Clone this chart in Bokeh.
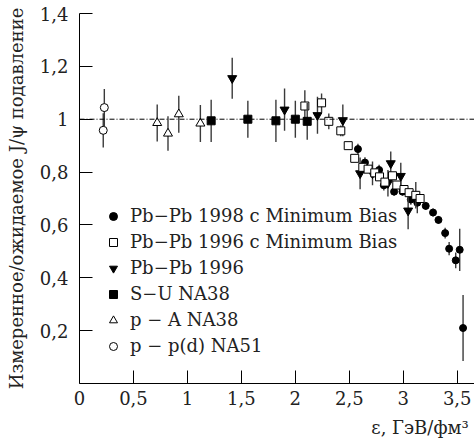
from bokeh.plotting import figure
from bokeh.models import ColumnDataSource, Span, Legend, LegendItem, FixedTicker, Range1d
from bokeh.embed import file_html
from bokeh.resources import INLINE

# ---- data ----
pp_x = [0.22, 0.23]
pp_y = [0.958, 1.044]
pp_err = [0.065, 0.07]

pA_x = [0.72, 0.82, 0.92, 1.12]
pA_y = [0.986, 0.946, 1.019, 0.984]
pA_err = [0.07, 0.065, 0.07, 0.07]

su_x = [1.22, 1.56, 1.82, 2.0, 2.11]
su_y = [0.994, 1.0, 0.994, 1.0, 0.992]
su_err = [0.08, 0.07, 0.08, 0.07, 0.07]

pb96_x = [1.415, 1.9, 2.205, 2.44, 2.6, 2.715, 2.858, 2.884, 2.977, 3.045]
pb96_y = [1.155, 1.036, 1.015, 0.996, 0.795, 0.795, 0.758, 0.833, 0.785, 0.654]
pb96_err = [0.078, 0.08, 0.07, 0.06, 0.06, 0.045, 0.05, 0.045, 0.05, 0.07]

pb96mb_x = [2.088, 2.243, 2.31, 2.421, 2.49, 2.55, 2.625, 2.674, 2.736, 2.78,
            2.83, 2.9, 2.94, 3.007, 3.054, 3.116, 3.156]
pb96mb_y = [1.05, 1.062, 0.992, 0.956, 0.90, 0.852, 0.818, 0.811, 0.797, 0.782,
            0.762, 0.786, 0.751, 0.734, 0.722, 0.712, 0.70]
pb96mb_err = [0.06, 0.035, 0.03, 0.02, 0.0, 0.0, 0.0, 0.0, 0.0, 0.0,
              0.0, 0.0, 0.0, 0.0, 0.0, 0.05, 0.0]

pb98_x = [2.58, 2.645, 2.776, 2.82, 2.915, 2.993, 3.07, 3.13, 3.208, 3.276,
          3.326, 3.388, 3.425, 3.486, 3.523, 3.554]
pb98_y = [0.887, 0.836, 0.808, 0.75, 0.726, 0.726, 0.696, 0.684, 0.672, 0.647,
          0.619, 0.569, 0.51, 0.466, 0.506, 0.21]
pb98_err = [0.02, 0.02, 0.02, 0.02, 0.015, 0.015, 0.02, 0.04, 0.015, 0.015,
            0.015, 0.02, 0.025, 0.03, 0.08, 0.125]

x_ticks = [0, 0.5, 1, 1.5, 2, 2.5, 3, 3.5]
x_tick_labels = ["0", "0,5", "1", "1,5", "2", "2,5", "3", "3,5"]
y_ticks = [0.2, 0.4, 0.6, 0.8, 1.0, 1.2, 1.4]
y_tick_labels = ["0,2", "0,4", "0,6", "0,8", "1", "1,2", "1,4"]

labels = ["Pb\u2212Pb 1998 с Minimum Bias", "Pb\u2212Pb 1996 с Minimum Bias",
          "Pb\u2212Pb 1996", "S\u2212U NA38", "p \u2212 A NA38", "p \u2212 p(d) NA51"]

x_title = "ε, ГэВ/фм³"
y_title = "Измеренное/ожидаемое J/ψ подавление"

FONT = "DejaVu Serif"
TXT = "#222222"

p = figure(width=474, height=440, output_backend="svg", toolbar_location=None,
           x_range=Range1d(0, 3.66), y_range=Range1d(0, 1.4),
           min_border_left=79, min_border_right=0, min_border_top=13,
           min_border_bottom=57)
p.outline_line_color = None
p.grid.visible = False
p.background_fill_color = "white"
p.border_fill_color = "white"

for ax in (p.xaxis, p.yaxis):
    ax.axis_line_color = "black"
    ax.major_tick_line_color = "black"
    ax.major_tick_in = 13
    ax.major_tick_out = 0
    ax.minor_tick_line_color = None
    ax.major_label_text_font = FONT
    ax.major_label_text_font_size = "18px"
    ax.major_label_text_color = TXT
    ax.axis_label_text_font = FONT
    ax.axis_label_text_font_size = "18px"
    ax.axis_label_text_font_style = "normal"
    ax.axis_label_text_color = TXT

p.xaxis.ticker = FixedTicker(ticks=x_ticks)
p.xaxis.major_label_overrides = {t: l for t, l in zip(x_ticks, x_tick_labels)}
p.yaxis.ticker = FixedTicker(ticks=y_ticks)
p.yaxis.major_label_overrides = {t: l for t, l in zip(y_ticks, y_tick_labels)}
p.xaxis.major_label_standoff = 7
p.yaxis.major_label_standoff = 11
p.yaxis.axis_label = y_title
p.yaxis.axis_label_standoff = 10
# the axis title is centred by Bokeh; non-breaking spaces push it to the right end
p.xaxis.axis_label = "\u00a0" * 50 + x_title
p.xaxis.axis_label_standoff = 9

p.add_layout(Span(location=1.0, dimension="width", line_color="black",
                  line_width=1, line_dash="5 2 1 2"))

ERR = "#3a3a3a"

def series(xs, ys, errs, marker, size, fill):
    src = ColumnDataSource(dict(x=xs, y=ys,
                                lo=[y - e for y, e in zip(ys, errs)],
                                hi=[y + e for y, e in zip(ys, errs)]))
    p.segment(x0="x", y0="lo", x1="x", y1="hi", source=src,
              line_color=ERR, line_width=1.4)
    return p.scatter("x", "y", source=src, marker=marker, size=size,
                     fill_color=fill, line_color="black", line_width=1)

r98 = series(pb98_x, pb98_y, pb98_err, "circle", 7, "black")
r96 = series(pb96_x, pb96_y, pb96_err, "inverted_triangle", 9, "black")
r96mb = series(pb96mb_x, pb96mb_y, pb96mb_err, "square", 8, "white")
rsu = series(su_x, su_y, su_err, "square", 8, "black")
rpa = series(pA_x, pA_y, pA_err, "triangle", 9, "white")
rpp = series(pp_x, pp_y, pp_err, "circle", 8, "white")

legend = Legend(items=[LegendItem(label=labels[0], renderers=[r98]),
                       LegendItem(label=labels[1], renderers=[r96mb]),
                       LegendItem(label=labels[2], renderers=[r96]),
                       LegendItem(label=labels[3], renderers=[rsu]),
                       LegendItem(label=labels[4], renderers=[rpa]),
                       LegendItem(label=labels[5], renderers=[rpp])],
                location=(24, 27), border_line_color=None,
                background_fill_alpha=0, padding=0, margin=0, spacing=5,
                glyph_height=20, glyph_width=20, label_height=20,
                label_standoff=7, label_text_font=FONT,
                label_text_font_size="18px", label_text_color=TXT)
p.add_layout(legend)

open("out.html", "w").write(file_html(p, INLINE))
